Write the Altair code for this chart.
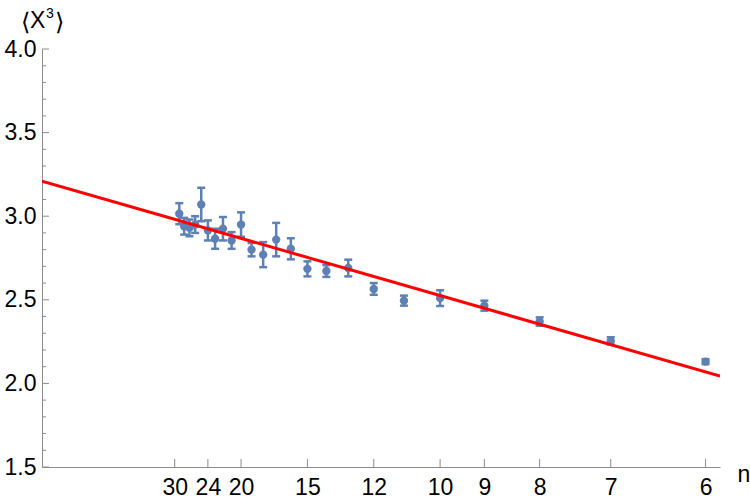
import altair as alt
import pandas as pd

# ---- data ----
n_values = [29, 28, 27, 26, 25, 24, 23, 22, 21, 20, 19, 18, 17, 16, 15, 14, 13, 12, 11, 10, 9, 8, 7, 6]
means = [3.015, 2.94, 2.93, 2.95, 3.07, 2.915, 2.865, 2.925, 2.855, 2.95, 2.80, 2.77, 2.86, 2.805,
         2.685, 2.672, 2.69, 2.565, 2.495, 2.51, 2.465, 2.37, 2.254, 2.13]
errors = [0.063, 0.05, 0.05, 0.05, 0.10, 0.06, 0.06, 0.07, 0.05, 0.073, 0.04, 0.075, 0.10, 0.063,
          0.045, 0.035, 0.05, 0.035, 0.03, 0.047, 0.03, 0.025, 0.022, 0.015]
x_tick_n = [30, 24, 20, 15, 12, 10, 9, 8, 7, 6]
y_major = [1.5, 2.0, 2.5, 3.0, 3.5, 4.0]
y_minor = [1.6, 1.7, 1.8, 1.9, 2.1, 2.2, 2.3, 2.4, 2.6, 2.7, 2.8, 2.9,
           3.1, 3.2, 3.3, 3.4, 3.6, 3.7, 3.8, 3.9]
fit_x = [0.0, 0.1703]
fit_y = [3.21, 2.044]

BLUE = "#5E81B5"
RED = "#FF0000"
GRAY = "#8c8c8c"
FONT = "Liberation Sans"
W, H = 678, 418

xs = alt.Scale(domain=[0, 0.1703], nice=False, zero=False)
ys = alt.Scale(domain=[1.5, 4.0], nice=False, zero=False)

xaxis = alt.Axis(values=[1.0 / v for v in x_tick_n], labelExpr="round(1/datum.value)",
                 tickSize=0, grid=False, domainColor=GRAY, domainWidth=1,
                 labelFont=FONT, labelFontSize=23, labelColor="#000000", labelPadding=9,
                 labelFlush=False, labelOverlap=False,
                 title="n", titleFont=FONT, titleFontSize=23, titleFontWeight="normal",
                 titleColor="#000000", titleX=W + 17, titleY=14, titleAlign="left",
                 titleBaseline="alphabetic", titleAnchor="start")
yaxis = alt.Axis(values=y_major, format=".1f", tickSize=0, grid=False,
                 domainColor=GRAY, domainWidth=1,
                 labelFont=FONT, labelFontSize=23, labelColor="#000000", labelPadding=6,
                 labelFlush=False, labelOverlap=False, title=None)

def X(field):
    return alt.X(field, type="quantitative", scale=xs, axis=xaxis, title="n")

def Y(field):
    return alt.Y(field, type="quantitative", scale=ys, axis=yaxis)

df = pd.DataFrame({"n": n_values, "m": means, "e": errors})
base = alt.Chart(df).transform_calculate(
    x="1/datum.n", lo="datum.m - datum.e", hi="datum.m + datum.e")

bars = base.mark_rule(color=BLUE, strokeWidth=2.5).encode(x=X("x"), y=Y("lo"), y2="hi:Q")
cap_lo = base.mark_tick(color=BLUE, thickness=2.5, size=8, orient="horizontal", opacity=1).encode(
    x=X("x"), y=Y("lo"))
cap_hi = base.mark_tick(color=BLUE, thickness=2.5, size=8, orient="horizontal", opacity=1).encode(
    x=X("x"), y=Y("hi"))
pts = base.mark_circle(color=BLUE, size=70, opacity=1).encode(x=X("x"), y=Y("m"))

fit = alt.Chart(pd.DataFrame({"x": fit_x, "y": fit_y})).mark_line(
    color=RED, strokeWidth=3, clip=True).encode(x=X("x"), y=Y("y"))

ymaj = alt.Chart(pd.DataFrame({"v": y_major})).mark_rule(color=GRAY, strokeWidth=1).encode(
    y=Y("v"), x=alt.value(0), x2=alt.value(7))
ymin = alt.Chart(pd.DataFrame({"v": y_minor})).mark_rule(color=GRAY, strokeWidth=1).encode(
    y=Y("v"), x=alt.value(0), x2=alt.value(4))
xtk = alt.Chart(pd.DataFrame({"n": x_tick_n})).transform_calculate(x="1/datum.n").mark_rule(
    color=GRAY, strokeWidth=1).encode(x=X("x"), y=alt.value(H), y2=alt.value(H - 8))

# y-axis title ⟨X³⟩ built from text pieces (real superscript look)
def piece(txt, size, align, x, y):
    return alt.Chart(pd.DataFrame({"t": [txt]})).mark_text(
        font=FONT, fontSize=size, align=align, baseline="alphabetic", color="#000000").encode(
        text="t:N", x=alt.value(x), y=alt.value(y))

t1 = piece("⟨", 24, "right", -12, -19)
t2 = piece("X", 23, "left", -12, -21)
t3 = piece("3", 14, "left", 4, -31)
t4 = piece("⟩", 24, "left", 13, -19)

chart = alt.layer(ymaj, ymin, xtk, bars, cap_lo, cap_hi, pts, fit, t1, t2, t3, t4).properties(
    width=W, height=H,
    padding={"left": 42, "top": 49, "right": 30, "bottom": 36},
    autosize=alt.AutoSizeParams(type="none"),
    background="white",
).configure_view(stroke=None)

chart.save("out.html", embed_options={"renderer": "svg", "actions": False})
